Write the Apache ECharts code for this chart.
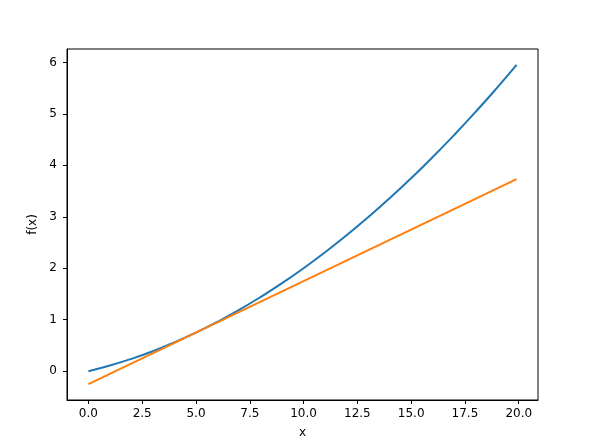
<!DOCTYPE html>
<html>
<head>
<meta charset="utf-8">
<script src="https://cdn.jsdelivr.net/npm/echarts@6/dist/echarts.min.js"></script>
<style>html,body{margin:0;padding:0;background:#fff}#c{width:590px;height:440px}</style>
</head>
<body>
<div id="c"></div>
<script>
// Values
const curveX = [0, 1, 2, 3, 4, 5, 6, 7, 8, 9, 10, 11, 12, 13, 14, 15, 16, 17, 18, 19, 19.9];
const curveY = [0, 0.11, 0.24, 0.39, 0.56, 0.75, 0.96, 1.19, 1.44, 1.71, 2.0, 2.31, 2.64, 2.99, 3.36, 3.75, 4.16, 4.59, 5.04, 5.51, 5.95];
const tangentX = [0, 19.9];
const tangentY = [-0.25, 3.73];
const xTicks = [0, 2.5, 5, 7.5, 10, 12.5, 15, 17.5, 20];
const yTicks = [0, 1, 2, 3, 4, 5, 6];

const font = 'DejaVu Sans';
const chart = echarts.init(document.getElementById('c'), null, {renderer: 'canvas'});
const axisCommon = {
  axisLine: {show: true, onZero: false, lineStyle: {color: '#000', width: 1}},
  axisTick: {show: true, inside: false, length: 4, lineStyle: {color: '#000', width: 1}},
  splitLine: {show: false},
  nameTextStyle: {color: '#000', fontFamily: font, fontSize: 12}
};
chart.setOption({
  animation: false,
  backgroundColor: '#fff',
  grid: {left: 67, top: 49, width: 471, height: 351, containLabel: false, outerBoundsMode: 'none',
    show: true, borderColor: '#000', borderWidth: 1},
  xAxis: Object.assign({}, axisCommon, {
    type: 'value', min: -0.995, max: 20.895,
    name: 'x', nameLocation: 'middle', nameGap: 27,
    axisTick: Object.assign({}, axisCommon.axisTick, {customValues: xTicks}),
    axisLabel: {customValues: xTicks, color: '#000', fontFamily: font, fontSize: 12, margin: 8,
      formatter: v => v.toFixed(1)}
  }),
  yAxis: Object.assign({}, axisCommon, {
    type: 'value', min: -0.56, max: 6.26,
    name: 'f(x)', nameLocation: 'middle', nameGap: 26, nameRotate: 90,
    axisTick: Object.assign({}, axisCommon.axisTick, {customValues: yTicks}),
    axisLabel: {customValues: yTicks, color: '#000', fontFamily: font, fontSize: 12, margin: 10,
      formatter: v => String(v)}
  }),
  series: [
    {type: 'line', data: curveX.map((x, i) => [x, curveY[i]]), smooth: true, showSymbol: false,
      lineStyle: {color: '#1f77b4', width: 2}, itemStyle: {color: '#1f77b4'}},
    {type: 'line', data: tangentX.map((x, i) => [x, tangentY[i]]), showSymbol: false,
      lineStyle: {color: '#ff7f0e', width: 2}, itemStyle: {color: '#ff7f0e'}}
  ]
});
</script>
</body>
</html>
